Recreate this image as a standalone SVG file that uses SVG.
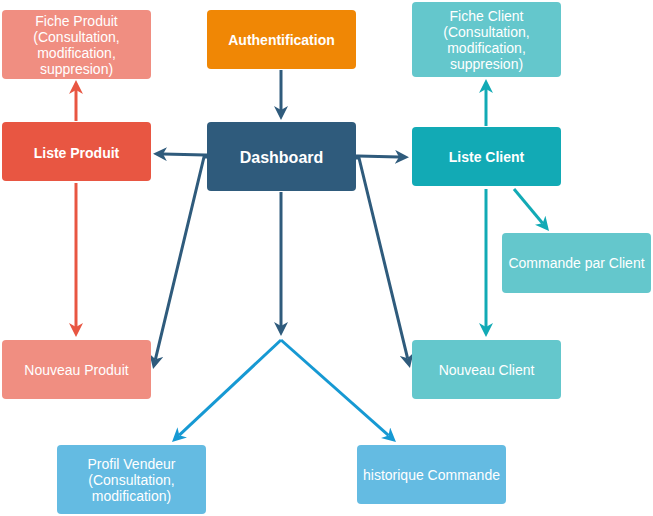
<svg xmlns="http://www.w3.org/2000/svg" width="653" height="516" viewBox="0 0 653 516">
<style>
  .box { stroke: none; }
  .t { font-family: "Liberation Sans", Arial, sans-serif; font-size: 14px; fill: #ffffff; text-anchor: middle; }
  .b { font-weight: bold; }
  .c { fill: none; stroke-width: 3; }
  .navy { stroke: #2F5B7C; }
  .red { stroke: #E85642; }
  .teal { stroke: #12AAB5; }
  .blue { stroke: #1699D3; }
</style>
<defs>
  <marker id="aNavy" markerUnits="userSpaceOnUse" markerWidth="14" markerHeight="14" viewBox="0 0 14 14" refX="4" refY="7" orient="auto"><path d="M0,0 L14,7 L0,14 L4,7 Z" fill="#2F5B7C"/></marker>
  <marker id="aRed" markerUnits="userSpaceOnUse" markerWidth="14" markerHeight="14" viewBox="0 0 14 14" refX="4" refY="7" orient="auto"><path d="M0,0 L14,7 L0,14 L4,7 Z" fill="#E85642"/></marker>
  <marker id="aTeal" markerUnits="userSpaceOnUse" markerWidth="14" markerHeight="14" viewBox="0 0 14 14" refX="4" refY="7" orient="auto"><path d="M0,0 L14,7 L0,14 L4,7 Z" fill="#12AAB5"/></marker>
  <marker id="aBlue" markerUnits="userSpaceOnUse" markerWidth="14" markerHeight="14" viewBox="0 0 14 14" refX="4" refY="7" orient="auto"><path d="M0,0 L14,7 L0,14 L4,7 Z" fill="#1699D3"/></marker>
</defs>

<g id="connectors">
  <path class="c navy" d="M281,70 L281,110" marker-end="url(#aNavy)"/>
  <path class="c navy" d="M207,155 L205,155 L163,154" marker-end="url(#aNavy)"/>
  <path class="c navy" d="M207,157 L204,157 L155.4,359.3" marker-end="url(#aNavy)"/>
  <path class="c navy" d="M356,156 L358,156 L399,157" marker-end="url(#aNavy)"/>
  <path class="c navy" d="M356,158 L359,158 L407.6,358.3" marker-end="url(#aNavy)"/>
  <path class="c navy" d="M281,192 L281,326" marker-end="url(#aNavy)"/>
  <path class="c blue" d="M281,340 L179.3,435.2" marker-end="url(#aBlue)"/>
  <path class="c blue" d="M281,340 L388.5,435.4" marker-end="url(#aBlue)"/>
  <path class="c red" d="M76,121 L76,90" marker-end="url(#aRed)"/>
  <path class="c red" d="M76,183 L76,327" marker-end="url(#aRed)"/>
  <path class="c teal" d="M486,126 L486,89" marker-end="url(#aTeal)"/>
  <path class="c teal" d="M514,189 L542.6,223.3" marker-end="url(#aTeal)"/>
  <path class="c teal" d="M486,189 L486,327" marker-end="url(#aTeal)"/>
</g>

<g id="fiche-produit">
  <rect class="box" x="2" y="10" width="149" height="69" rx="4" fill="#F08E81"/>
  <text class="t" x="76.5"><tspan x="76.5" y="26">Fiche Produit</tspan><tspan x="76.5" y="42">(Consultation,</tspan><tspan x="76.5" y="58">modification,</tspan><tspan x="76.5" y="74">suppresion)</tspan></text>
</g>
<g id="authentification">
  <rect class="box" x="207" y="10" width="149" height="59" rx="4" fill="#F08705"/>
  <text class="t b" x="281.5" y="45">Authentification</text>
</g>
<g id="fiche-client">
  <rect class="box" x="412" y="2" width="149" height="75" rx="4" fill="#64C7CC"/>
  <text class="t" x="486.5"><tspan x="486.5" y="21">Fiche Client</tspan><tspan x="486.5" y="37">(Consultation,</tspan><tspan x="486.5" y="53">modification,</tspan><tspan x="486.5" y="69">suppresion)</tspan></text>
</g>
<g id="liste-produit">
  <rect class="box" x="2" y="122" width="149" height="59" rx="4" fill="#E85642"/>
  <text class="t b" x="76.5" y="158">Liste Produit</text>
</g>
<g id="dashboard">
  <rect class="box" x="207" y="122" width="149" height="69" rx="4" fill="#2F5B7C"/>
  <text class="t b" x="281.5" y="163" style="font-size:16px">Dashboard</text>
</g>
<g id="liste-client">
  <rect class="box" x="412" y="127" width="149" height="59" rx="4" fill="#12AAB5"/>
  <text class="t b" x="486.5" y="162">Liste Client</text>
</g>
<g id="commande-par-client">
  <rect class="box" x="502" y="233" width="149" height="60" rx="4" fill="#64C7CC"/>
  <text class="t" x="576.5" y="268">Commande par Client</text>
</g>
<g id="nouveau-produit">
  <rect class="box" x="2" y="340" width="149" height="59" rx="4" fill="#F08E81"/>
  <text class="t" x="76.5" y="375">Nouveau Produit</text>
</g>
<g id="nouveau-client">
  <rect class="box" x="412" y="340" width="149" height="59" rx="4" fill="#64C7CC"/>
  <text class="t" x="486.5" y="375">Nouveau Client</text>
</g>
<g id="profil-vendeur">
  <rect class="box" x="57" y="445" width="149" height="69" rx="4" fill="#64BBE2"/>
  <text class="t" x="131.5"><tspan x="131.5" y="469">Profil Vendeur</tspan><tspan x="131.5" y="485">(Consultation,</tspan><tspan x="131.5" y="501">modification)</tspan></text>
</g>
<g id="historique-commande">
  <rect class="box" x="357" y="445" width="149" height="59" rx="4" fill="#64BBE2"/>
  <text class="t" x="431.5" y="480">historique Commande</text>
</g>
</svg>
